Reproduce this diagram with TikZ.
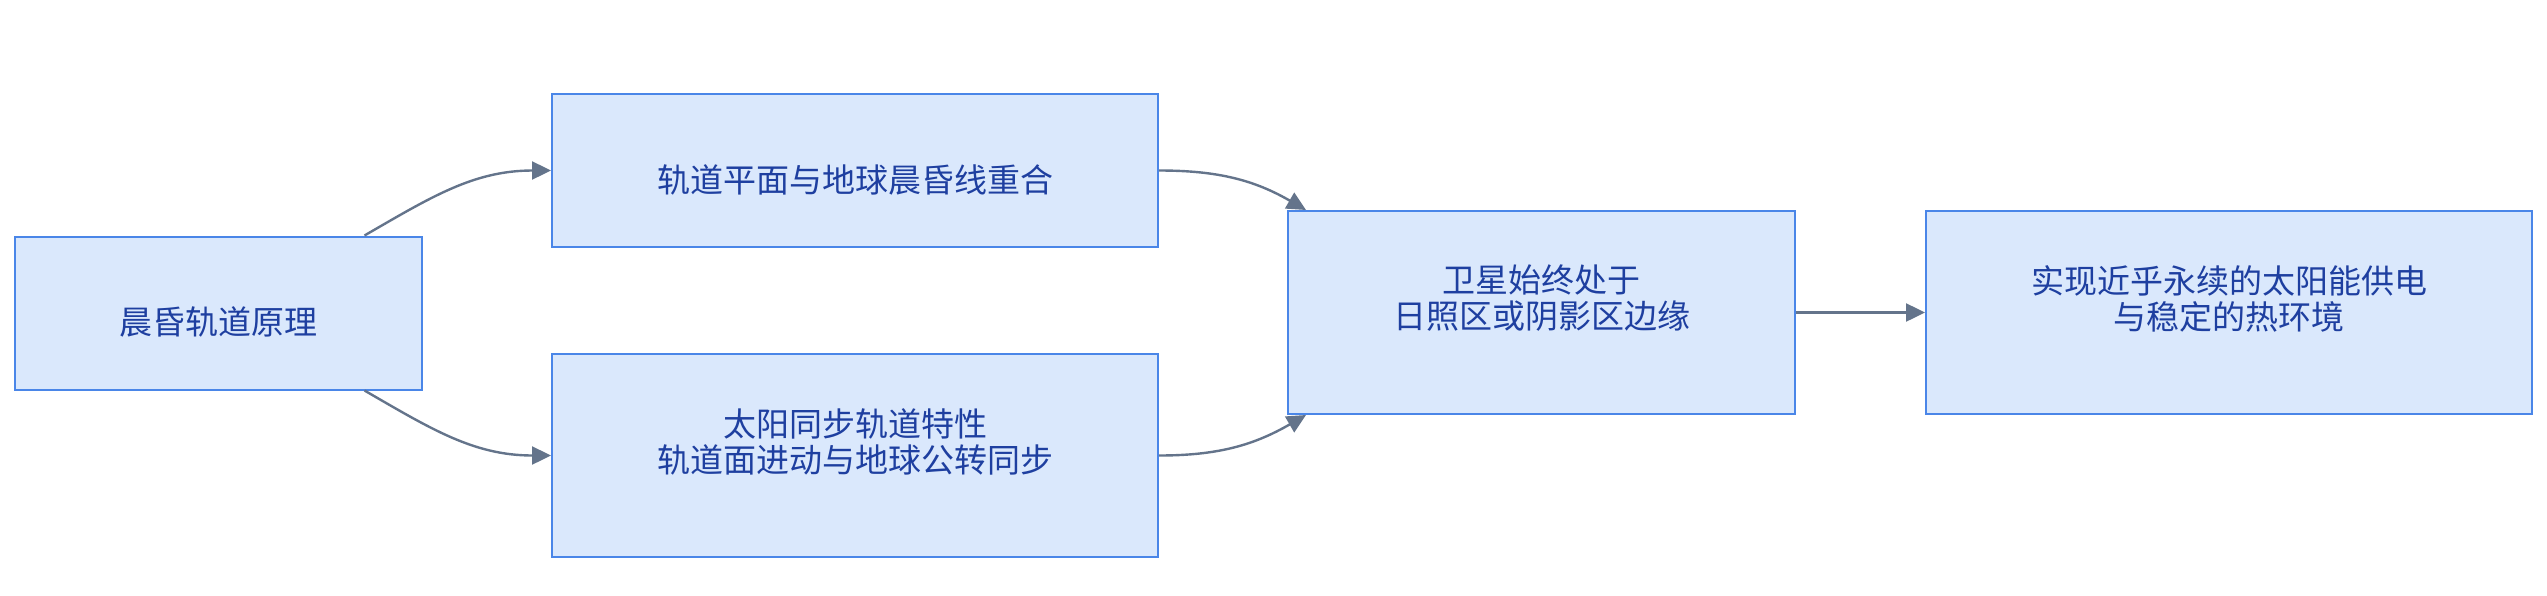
\documentclass[tikz,border=0pt]{standalone}
\usepackage{fontspec}
\setmainfont{Noto Sans CJK SC}
\usepackage{tikz}
\usetikzlibrary{arrows.meta,positioning}

\definecolor{boxfill}{HTML}{DAE8FC}
\definecolor{boxdraw}{HTML}{4A86E8}
\definecolor{boxtext}{HTML}{1E3FA0}
\definecolor{linecol}{HTML}{64748B}

% one line sits a little low, two lines a little high
\newcommand{\oneline}[1]{\raisebox{-4.5pt}[\height][\depth]{#1}}
\newcommand{\twolines}[2]{\raisebox{7pt}[\height][\depth]{\vbox{\lineskiplimit=-10pt\halign{\hfil##\hfil\cr #1\cr #2\cr}}}}

\begin{document}
\begin{tikzpicture}[x=0.5pt, y=-0.5pt]
        \tikzstyle{block} = [rectangle, draw=boxdraw, fill=boxfill, line width=1pt, text=boxtext, align=center, font=\fontsize{16.5}{18}\selectfont, inner sep=0pt]
        \tikzstyle{line} = [draw=linecol, line width=1.2pt, -{Triangle[length=9.5pt,width=9pt]}]

        \useasboundingbox (0,0) rectangle (2547,595);

        \node [block, minimum width=203.5pt, minimum height=76.5pt] (principle) at (218,313) {\oneline{晨昏轨道原理}};
        \node [block, minimum width=303pt, minimum height=76.5pt] (plane) at (855,170.5) {\oneline{轨道平面与地球晨昏线重合}};
        \node [block, minimum width=303pt, minimum height=101.5pt] (sunsync) at (855,455.5) {\twolines{太阳同步轨道特性}{轨道面进动与地球公转同步}};
        \node [block, minimum width=253.5pt, minimum height=101.5pt] (edge) at (1541.5,312.5) {\twolines{卫星始终处于}{日照区或阴影区边缘}};
        \node [block, minimum width=303pt, minimum height=101.5pt] (power) at (2229,312.5) {\twolines{实现近乎永续的太阳能供电}{与稳定的热环境}};

        \path [line] ([xshift=-29pt]principle.north east) to[out=30,in=180] (plane.west);
        \path [line] ([xshift=-29pt]principle.south east) to[out=-30,in=180] (sunsync.west);
        \path [line] (plane.east) to[out=0,in=150] ([xshift=9.5pt]edge.north west);
        \path [line] (sunsync.east) to[out=0,in=-150] ([xshift=9.5pt]edge.south west);
        \path [line] (edge) -- (power);
    \end{tikzpicture}
\end{document}
